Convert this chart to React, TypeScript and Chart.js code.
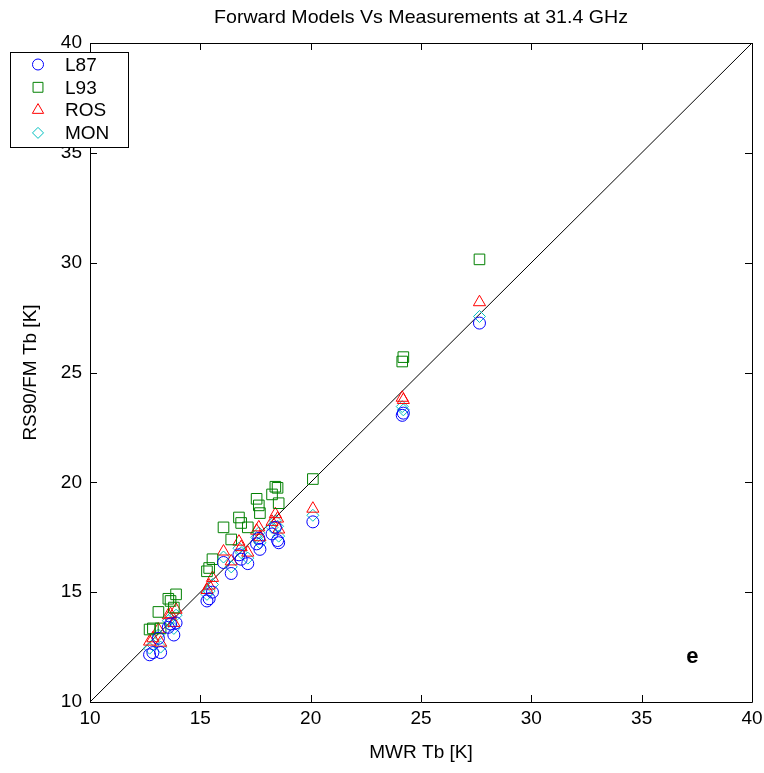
import React, { useEffect, useRef } from "react";
import { Chart, registerables } from "chart.js";

Chart.register(...registerables);

// Measured MWR brightness temperatures (shared x for every model)
const mwrTb = [12.70, 12.85, 13.10, 13.20, 13.55, 13.65, 13.80, 13.90, 15.30, 15.40, 15.55, 16.05, 16.40, 16.75, 16.85, 17.15, 17.55, 17.65, 17.70, 18.25, 18.40, 18.55, 18.50, 20.10, 24.15, 24.20, 27.65];
const l87 = [12.15, 12.25, 12.90, 12.25, 13.40, 13.55, 13.05, 13.60, 14.60, 14.70, 15.00, 16.35, 15.85, 16.70, 16.50, 16.30, 17.20, 17.45, 16.95, 17.65, 17.95, 17.25, 17.35, 18.20, 23.05, 23.15, 27.25];
const l93 = [13.30, 13.35, 14.10, 13.35, 14.70, 14.60, 14.30, 14.90, 15.95, 16.10, 16.50, 17.95, 17.40, 18.40, 18.15, 17.95, 19.25, 18.95, 18.60, 19.45, 19.80, 19.05, 19.75, 20.15, 25.50, 25.70, 30.15];
const ros = [12.75, 12.90, 13.30, 12.70, 13.95, 14.00, 13.60, 14.20, 15.10, 15.30, 15.65, 16.85, 16.40, 17.30, 17.05, 16.80, 17.80, 17.95, 17.50, 18.20, 18.55, 17.85, 18.35, 18.80, 23.85, 23.75, 28.20];
const mon = [12.45, 12.60, 13.05, 12.50, 13.70, 13.80, 13.35, 13.95, 14.90, 15.05, 15.35, 16.60, 16.15, 17.00, 16.80, 16.55, 17.50, 17.70, 17.25, 17.95, 18.25, 17.55, 18.00, 18.50, 23.45, 23.30, 27.55];

const seriesNames = ["L87", "L93", "ROS", "MON"];
const seriesColors = ["#0000ff", "#008000", "#ff0000", "#00bfbf"];
const seriesStyles = ["circle", "rect", "triangle", "rectRot"];
const seriesRadius = [6, 7.5, 7, 6];
const seriesValues = [l87, l93, ros, mon];

const tickValues = [10, 15, 20, 25, 30, 35, 40];
const diagonal = [10, 40];

const titleText = "Forward Models Vs Measurements at 31.4 GHz";
const xTitle = "MWR Tb [K]";
const yTitle = "RS90/FM Tb [K]";
const panelLabel = "e";
const panelLabelAt = [37.3, 12.05];

const FONT = "'Liberation Sans', Arial, Helvetica, sans-serif";

function drawMarker(ctx: CanvasRenderingContext2D, style: string, x: number, y: number, r: number) {
  ctx.beginPath();
  if (style === "circle") {
    ctx.arc(x, y, r, 0, Math.PI * 2);
  } else if (style === "rect") {
    const s = r * Math.SQRT1_2;
    ctx.rect(x - s, y - s, 2 * s, 2 * s);
  } else if (style === "triangle") {
    ctx.moveTo(x, y - r);
    ctx.lineTo(x + r * Math.cos(Math.PI / 6), y + r / 2);
    ctx.lineTo(x - r * Math.cos(Math.PI / 6), y + r / 2);
    ctx.closePath();
  } else {
    ctx.moveTo(x, y - r);
    ctx.lineTo(x + r, y);
    ctx.lineTo(x, y + r);
    ctx.lineTo(x - r, y);
    ctx.closePath();
  }
  ctx.stroke();
}

const framePlugin = {
  id: "matlabFrame",
  afterDraw(chart: any) {
    const ctx: CanvasRenderingContext2D = chart.ctx;
    const { left, right, top, bottom } = chart.chartArea;
    const xs = chart.scales.x;
    const ys = chart.scales.y;
    ctx.save();
    // box
    ctx.strokeStyle = "#000";
    ctx.lineWidth = 1;
    ctx.beginPath();
    ctx.rect(Math.round(left) + 0.5, Math.round(top) + 0.5, Math.round(right - left), Math.round(bottom - top));
    ctx.stroke();
    // inward ticks
    const tl = 7;
    ctx.beginPath();
    tickValues.forEach((v) => {
      const px = Math.round(xs.getPixelForValue(v)) + 0.5;
      ctx.moveTo(px, bottom);
      ctx.lineTo(px, bottom - tl);
      ctx.moveTo(px, top);
      ctx.lineTo(px, top + tl);
      const py = Math.round(ys.getPixelForValue(v)) + 0.5;
      ctx.moveTo(left, py);
      ctx.lineTo(left + tl, py);
      ctx.moveTo(right, py);
      ctx.lineTo(right - tl, py);
    });
    ctx.stroke();
    // title (slightly wide lettering as in the reference)
    ctx.fillStyle = "#000";
    ctx.font = `18.5px ${FONT}`;
    ctx.textAlign = "center";
    ctx.textBaseline = "middle";
    const tw = ctx.measureText(titleText).width;
    const sx = 414 / tw;
    ctx.save();
    ctx.translate((left + right) / 2, 18);
    ctx.scale(sx, 1);
    ctx.fillText(titleText, 0, 0);
    ctx.restore();
    // panel label
    ctx.font = `bold 22px ${FONT}`;
    ctx.fillText(panelLabel, xs.getPixelForValue(panelLabelAt[0]), ys.getPixelForValue(panelLabelAt[1]));
    // legend
    const lx = 10, ly = 52, lw = 118, lh = 95;
    ctx.fillStyle = "#fff";
    ctx.fillRect(lx, ly, lw, lh);
    ctx.strokeStyle = "#000";
    ctx.strokeRect(lx + 0.5, ly + 0.5, lw, lh);
    ctx.textAlign = "left";
    ctx.font = `19px ${FONT}`;
    seriesNames.forEach((name, i) => {
      const cy = 64.5 + i * 22.8;
      ctx.strokeStyle = seriesColors[i];
      ctx.lineWidth = 1;
      drawMarker(ctx, seriesStyles[i], 38, cy, seriesRadius[i] - 0.5);
      ctx.fillStyle = "#000";
      ctx.fillText(name, 65, cy + 1);
    });
    ctx.restore();
  },
};

export default function App() {
  const canvasRef = useRef<HTMLCanvasElement | null>(null);

  useEffect(() => {
    if (!canvasRef.current) return;
    const datasets: any[] = seriesNames.map((name, i) => ({
      type: "scatter",
      label: name,
      data: mwrTb.map((x, j) => ({ x, y: seriesValues[i][j] })),
      pointStyle: seriesStyles[i],
      pointRadius: seriesRadius[i],
      pointBorderColor: seriesColors[i],
      pointBackgroundColor: "rgba(0,0,0,0)",
      pointBorderWidth: 1,
      showLine: false,
    }));
    datasets.push({
      type: "line",
      label: "1:1",
      data: diagonal.map((v) => ({ x: v, y: v })),
      borderColor: "#000",
      borderWidth: 1,
      pointRadius: 0,
      fill: false,
    });

    const tickFont = { family: FONT, size: 19 };
    const chart = new Chart(canvasRef.current, {
      type: "scatter",
      data: { datasets },
      options: {
        animation: false,
        responsive: false,
        maintainAspectRatio: false,
        layout: { padding: { top: 43, right: 12, left: 0, bottom: 0 } },
        plugins: { legend: { display: false }, title: { display: false }, tooltip: { enabled: false } },
        scales: {
          x: {
            type: "linear",
            min: 10,
            max: 40,
            grid: { display: false, drawTicks: false },
            border: { display: false },
            afterBuildTicks: (s: any) => { s.ticks = tickValues.map((v) => ({ value: v })); },
            afterFit: (s: any) => { s.height = 71; s.paddingLeft = 0; s.paddingRight = 0; },
            ticks: { color: "#000", font: tickFont, padding: 5, maxRotation: 0 },
            title: { display: true, text: xTitle, color: "#000", font: tickFont, padding: { top: 0, bottom: 9 } },
          },
          y: {
            type: "linear",
            min: 10,
            max: 40,
            grid: { display: false, drawTicks: false },
            border: { display: false },
            afterBuildTicks: (s: any) => { s.ticks = tickValues.map((v) => ({ value: v })); },
            afterFit: (s: any) => { s.width = 90; s.paddingTop = 0; s.paddingBottom = 0; },
            ticks: { color: "#000", font: tickFont, padding: 8 },
            title: { display: true, text: yTitle, color: "#000", font: tickFont, padding: { top: 19, bottom: 0 } },
          },
        },
      } as any,
      plugins: [framePlugin],
    });
    return () => chart.destroy();
  }, []);

  return (
    <div style={{ position: "fixed", left: 0, top: 0, width: 764, height: 773, background: "#fff" }}>
      <canvas ref={canvasRef} width={764} height={773} style={{ width: 764, height: 773, display: "block" }} />
    </div>
  );
}
